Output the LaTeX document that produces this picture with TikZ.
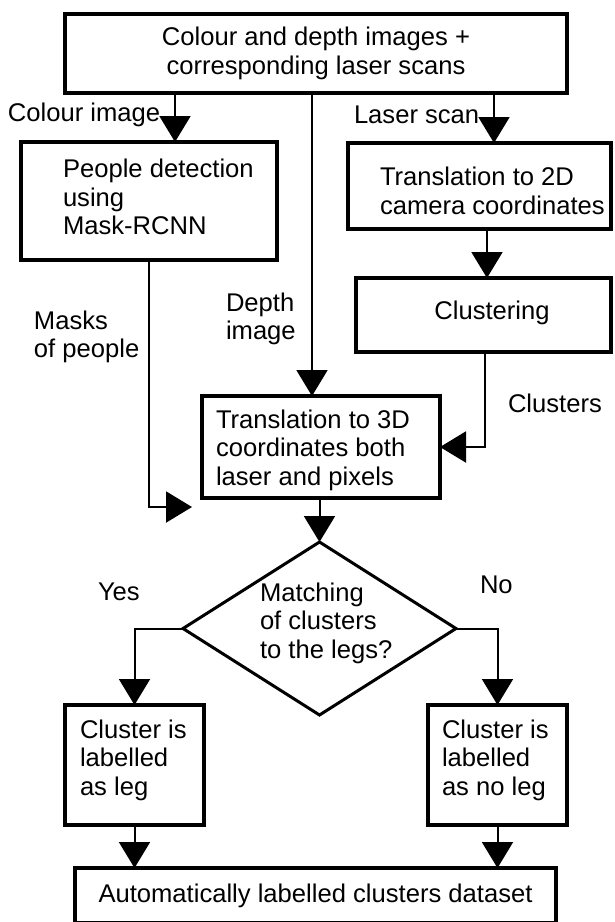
\documentclass[tikz,border=0pt]{standalone}
\usepackage{fontspec}
\setmainfont{Liberation Sans}
\usetikzlibrary{arrows.meta,shapes.geometric}
\begin{document}
\begin{tikzpicture}[x=1pt,y=-1pt,
  every node/.style={font=\fontsize{25.6}{28.5}\selectfont, inner sep=0pt, outer sep=0pt},
  box/.style={draw, line width=4pt, rectangle},
  txt/.style={anchor=west, align=left},
  lab/.style={anchor=west, align=left},
  arr/.style={line width=2pt, -{Triangle[width=31pt,length=26pt]}},
]
\useasboundingbox (0,0) rectangle (614,922);
% boxes
\node[box, align=center, minimum width=502pt, minimum height=79pt] (top) at (316,53.5) {Colour and depth images +\\corresponding laser scans};
\node[box, minimum width=256pt, minimum height=118pt] (people) at (149,201) {};
\node[txt] (tPeople) at (63,197) {People detection\\using\\Mask-RCNN};
\node[box, minimum width=263pt, minimum height=86pt] (twod) at (479.5,186) {};
\node[txt] (tTwod) at (380,191) {Translation to 2D\\camera coordinates};
\node[box, minimum width=255pt, minimum height=74pt] (clust) at (483.5,315) {};
\node (tClust) at (492,313) {Clustering};
\node[box, minimum width=238pt, minimum height=102pt] (tdb) at (321,447) {};
\node[txt] (tTdb) at (216,450) {Translation to 3D\\coordinates both\\laser and pixels};
\node[draw, diamond, line width=3pt, minimum width=273pt, minimum height=173pt] (dia) at (319.5,628.5) {};
\node[txt] (tDia) at (260,623) {Matching\\of clusters\\to the legs?};
\node[box, minimum width=139pt, minimum height=120pt] (yes) at (134.5,765) {};
\node[txt] (tYes) at (80,760) {Cluster is\\labelled\\as leg};
\node[box, minimum width=139pt, minimum height=120pt] (no) at (497.5,765) {};
\node[txt] (tNo) at (442,760) {Cluster is\\labelled\\as no leg};
\node[box, minimum width=481pt, minimum height=55pt] (bot) at (315.5,895.5) {Automatically labelled clusters dataset};
% helper columns
\coordinate (cI) at (175,0);
\coordinate (cL) at (494,0);
\coordinate (cD) at (312,0);
\coordinate (cC) at (487,0);
\coordinate (cK) at (485,0);
\coordinate (mend) at (192,507);
% connectors
\draw[arr] (top.south -| cI) -- (people.north -| cI);
\draw[arr] (top.south -| cL) -- (twod.north -| cL);
\draw[arr] (top.south -| cD) -- (tdb.north -| cD);
\draw[arr] (twod.south -| cC) -- (clust.north -| cC);
\draw[arr] (clust.south -| cK) |- (tdb.east);
\draw[arr] (people.south) |- (mend);
\draw[arr] (tdb.south -| dia.north) -- (dia.north);
\draw[arr] (dia.west) -| (yes.north);
\draw[arr] (dia.east) -| (no.north);
\draw[arr] (yes.south) -- (yes.south |- bot.north);
\draw[arr] (no.south) -- (no.south |- bot.north);
% labels
\node[lab] (lColour) at (8,115) {Colour image};
\node[lab] (lLaser) at (354,115) {Laser scan};
\node[lab] (lMasks) at (34,337) {Masks\\of people};
\node[lab] (lDepth) at (226,319) {Depth\\image};
\node[lab] (lClusters) at (508,403) {Clusters};
\node[lab] (lYes) at (98,592) {Yes};
\node[lab] (lNo) at (480,585) {No};
\end{tikzpicture}
\end{document}
